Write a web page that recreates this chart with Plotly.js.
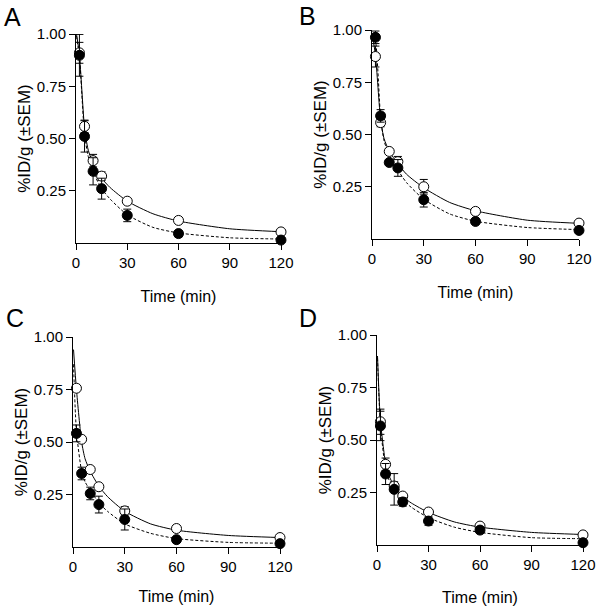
<!DOCTYPE html>
<html>
<head>
<meta charset="utf-8">
<script src="https://cdn.plot.ly/plotly-3.0.1.min.js"></script>
<style>
  html, body { margin: 0; padding: 0; background: #fff; }
  #chart { width: 604px; height: 615px; }
</style>
</head>
<body>
<div id="chart"></div>
<script>
// sampling times (min)
var times = [2, 5, 10, 15, 30, 60, 120];
var fitTimes = [0.3, 2, 5, 7, 10, 15, 20, 30, 45, 60, 90, 120];

// panel A
var aOpen = [0.91, 0.558, 0.394, 0.32, 0.20, 0.108, 0.053];
var aOpenErr = [0.05, 0.03, 0.03, 0.02, 0.01, 0.01, 0.005];
var aFilled = [0.898, 0.51, 0.343, 0.26, 0.132, 0.045, 0.014];
var aFilledErr = [0.10, 0.075, 0.065, 0.05, 0.03, 0.015, 0.005];
var aOpenFit = [1.0, 0.90, 0.55, 0.45, 0.38, 0.31, 0.265, 0.20, 0.14, 0.105, 0.068, 0.054];
var aFilledFit = [0.99, 0.89, 0.52, 0.42, 0.34, 0.26, 0.21, 0.135, 0.075, 0.048, 0.025, 0.019];

// panel B
var bOpen = [0.873, 0.557, 0.419, 0.37, 0.25, 0.132, 0.076];
var bOpenErr = [0.05, 0.02, 0.01, 0.025, 0.035, 0.01, 0.005];
var bFilled = [0.965, 0.589, 0.366, 0.34, 0.188, 0.084, 0.041];
var bFilledErr = [0.03, 0.03, 0.01, 0.04, 0.035, 0.01, 0.005];
var bOpenFit = [0.97, 0.88, 0.57, 0.48, 0.42, 0.36, 0.31, 0.245, 0.175, 0.135, 0.09, 0.075];
var bFilledFit = [0.98, 0.95, 0.58, 0.47, 0.40, 0.33, 0.27, 0.19, 0.12, 0.085, 0.055, 0.045];

// panel C
var cOpen = [0.756, 0.513, 0.369, 0.287, 0.172, 0.088, 0.045];
var cOpenErr = [0.01, 0.01, 0.01, 0.01, 0.02, 0.005, 0.005];
var cFilled = [0.541, 0.35, 0.255, 0.202, 0.131, 0.035, 0.016];
var cFilledErr = [0.04, 0.03, 0.03, 0.04, 0.05, 0.01, 0.005];
var cOpenFit = [0.94, 0.75, 0.50, 0.42, 0.36, 0.29, 0.24, 0.17, 0.11, 0.08, 0.055, 0.045];
var cFilledFit = [0.87, 0.55, 0.36, 0.31, 0.27, 0.21, 0.17, 0.11, 0.065, 0.04, 0.022, 0.018];

// panel D
var dOpen = [0.587, 0.384, 0.281, 0.233, 0.157, 0.09, 0.048];
var dOpenErr = [0.06, 0.03, 0.02, 0.01, 0.01, 0.01, 0.005];
var dFilled = [0.567, 0.338, 0.265, 0.205, 0.114, 0.071, 0.011];
var dFilledErr = [0.07, 0.05, 0.075, 0.02, 0.02, 0.015, 0.005];
var dOpenFit = [0.90, 0.59, 0.39, 0.33, 0.28, 0.23, 0.20, 0.155, 0.11, 0.085, 0.06, 0.05];
var dFilledFit = [0.89, 0.57, 0.36, 0.31, 0.265, 0.215, 0.18, 0.13, 0.085, 0.06, 0.035, 0.03];

var yTicks = [0.25, 0.5, 0.75, 1.0];
var yTickText = ['0.25', '0.50', '0.75', '1.00'];
var xTicks = [0, 30, 60, 90, 120];
var letters = ['A', 'B', 'C', 'D'];

var panels = [
    {open: aOpen, openErr: aOpenErr, filled: aFilled, filledErr: aFilledErr, openFit: aOpenFit, filledFit: aFilledFit},
    {open: bOpen, openErr: bOpenErr, filled: bFilled, filledErr: bFilledErr, openFit: bOpenFit, filledFit: bFilledFit},
    {open: cOpen, openErr: cOpenErr, filled: cFilled, filledErr: cFilledErr, openFit: cOpenFit, filledFit: cFilledFit},
    {open: dOpen, openErr: dOpenErr, filled: dFilled, filledErr: dFilledErr, openFit: dOpenFit, filledFit: dFilledFit}
];

var W = 604, H = 615;
var boxes = [
    [76, 281, 34, 243],
    [372, 579, 30, 239],
    [73, 280, 337, 547],
    [377, 583, 335, 545]
];
// x title standoff per panel
var xStand = [20, 20, 16, 19];
// letter positions (left, top) in px
var letterPos = [[2, 1], [297, 0], [4, 302], [297, 302]];

var data = [];
var layout = {
    width: W,
    height: H,
    margin: {l: 0, r: 0, t: 0, b: 0},
    paper_bgcolor: '#fff',
    plot_bgcolor: '#fff',
    showlegend: false,
    font: {family: 'Arial, "Liberation Sans", sans-serif', color: '#000', size: 15},
    annotations: []
};

panels.forEach(function (p, i) {
    var n = i === 0 ? '' : String(i + 1);
    var xa = 'x' + n, ya = 'y' + n;

    data.push({
        x: fitTimes, y: p.openFit, xaxis: xa, yaxis: ya,
        type: 'scatter', mode: 'lines', hoverinfo: 'skip',
        line: {color: '#000', width: 1, shape: 'spline', smoothing: 0.6}
    });
    data.push({
        x: fitTimes, y: p.filledFit, xaxis: xa, yaxis: ya,
        type: 'scatter', mode: 'lines', hoverinfo: 'skip',
        line: {color: '#000', width: 1, dash: '3px,2px', shape: 'spline', smoothing: 0.6}
    });
    data.push({
        x: times, y: p.open, xaxis: xa, yaxis: ya,
        type: 'scatter', mode: 'markers', cliponaxis: false,
        marker: {symbol: 'circle', size: 10, color: '#fff', line: {color: '#000', width: 1}},
        error_y: {type: 'data', array: p.openErr, visible: true, color: '#000', thickness: 1, width: 4}
    });
    data.push({
        x: times, y: p.filled, xaxis: xa, yaxis: ya,
        type: 'scatter', mode: 'markers', cliponaxis: false,
        marker: {symbol: 'circle', size: 10, color: '#000', line: {color: '#000', width: 1}},
        error_y: {type: 'data', array: p.filledErr, visible: true, color: '#000', thickness: 1, width: 4}
    });

    var b = boxes[i];
    layout['xaxis' + n] = {
        domain: [b[0] / W, b[1] / W],
        anchor: ya,
        range: [0, 120],
        tickvals: xTicks,
        ticks: 'outside', ticklen: 6, tickwidth: 1, tickcolor: '#000',
        showline: true, linecolor: '#000', linewidth: 1,
        showgrid: false, zeroline: false,
        tickfont: {size: 15},
        title: {text: 'Time (min)', font: {size: 16}, standoff: xStand[i]}
    };
    layout['yaxis' + n] = {
        domain: [1 - b[3] / H, 1 - b[2] / H],
        anchor: xa,
        range: [0, 1],
        tickvals: yTicks,
        ticktext: yTickText,
        ticks: 'outside', ticklen: 6, tickwidth: 1, tickcolor: '#000',
        showline: true, linecolor: '#000', linewidth: 1,
        showgrid: false, zeroline: false,
        tickfont: {size: 15},
        title: {text: '%ID/g (±SEM)', font: {size: 17}, standoff: 1}
    };

    layout.annotations.push({
        text: letters[i], xref: 'paper', yref: 'paper',
        x: letterPos[i][0] / W, y: 1 - letterPos[i][1] / H,
        xanchor: 'left', yanchor: 'top', showarrow: false,
        font: {size: 25, color: '#000'}
    });
});

Plotly.newPlot('chart', data, layout, {staticPlot: true});
</script>
</body>
</html>
